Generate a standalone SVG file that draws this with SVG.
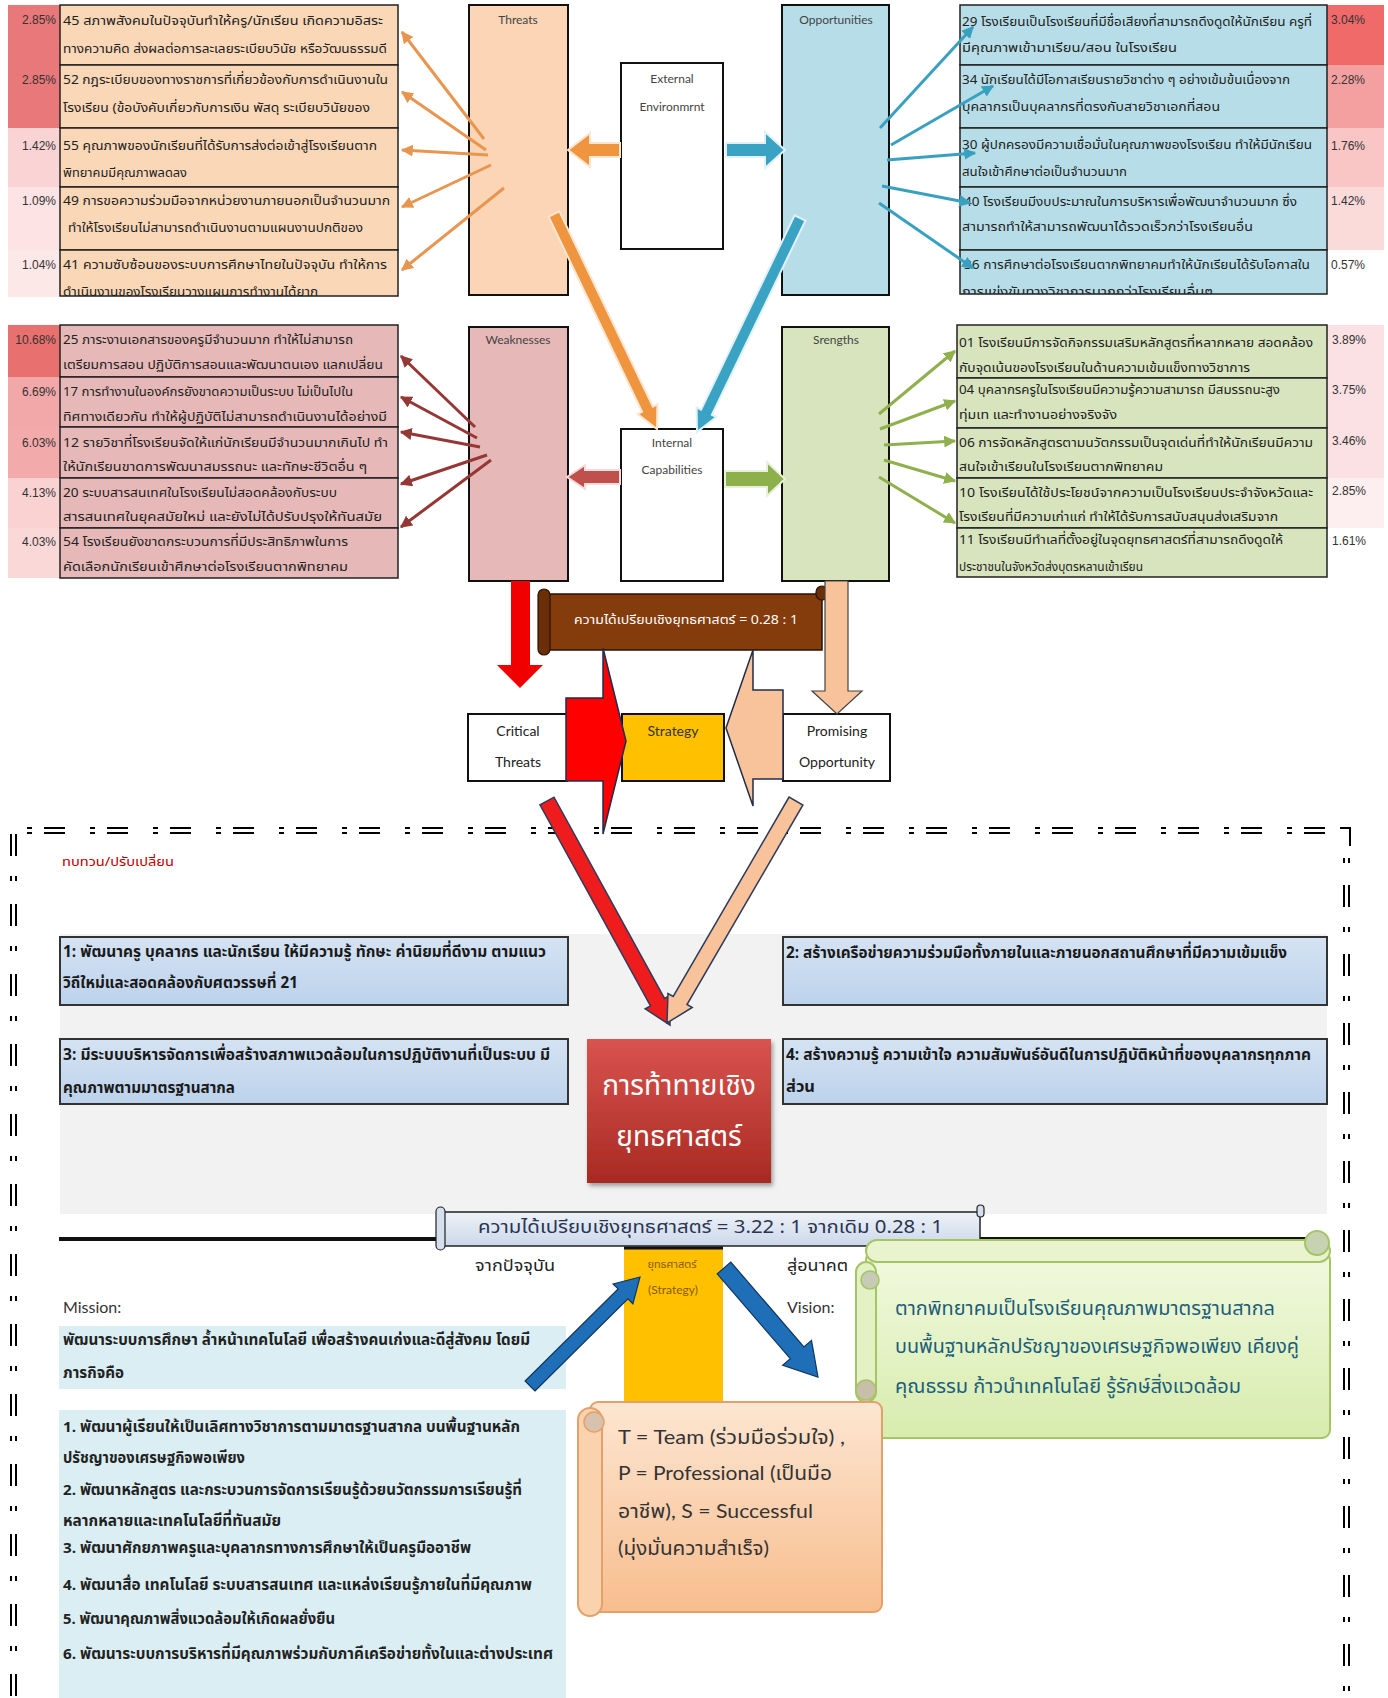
<svg xmlns="http://www.w3.org/2000/svg" width="1388" height="1698" viewBox="0 0 1388 1698">
<defs>
<style>
.th{font-family:"Noto Sans Thai","Tahoma","Loma","Garuda","Liberation Sans",sans-serif;dominant-baseline:central;fill:#222}
.t13{font-size:13px}
.pct{font-family:"Liberation Sans",sans-serif;font-size:12px;fill:#333;dominant-baseline:central}
.en{font-family:"Lato","Open Sans","Noto Sans Thai",sans-serif;fill:#444;dominant-baseline:central}
.box{stroke:#111;stroke-width:2}
.row{stroke:#222;stroke-width:1.5}
.goal{font-size:16px;font-weight:bold;fill:#1a1a1a}
.mis{font-size:15px;font-weight:bold;fill:#222}
.fanO{stroke:#e8964f;stroke-width:3;fill:none;marker-end:url(#mO)}
.fanB{stroke:#3aa0c0;stroke-width:3;fill:none;marker-end:url(#mB)}
.fanR{stroke:#953735;stroke-width:3;fill:none;marker-end:url(#mR)}
.fanG{stroke:#8fb04c;stroke-width:3;fill:none;marker-end:url(#mG)}
.dl{stroke:#000;stroke-width:2;fill:none}
</style>
<marker id="mO" viewBox="0 0 10 10" refX="9" refY="5" markerWidth="12" markerHeight="12" markerUnits="userSpaceOnUse" orient="auto"><path d="M0,0 L10,5 L0,10 z" fill="#e8964f"/></marker>
<marker id="mB" viewBox="0 0 10 10" refX="9" refY="5" markerWidth="12" markerHeight="12" markerUnits="userSpaceOnUse" orient="auto"><path d="M0,0 L10,5 L0,10 z" fill="#3aa0c0"/></marker>
<marker id="mR" viewBox="0 0 10 10" refX="9" refY="5" markerWidth="12" markerHeight="12" markerUnits="userSpaceOnUse" orient="auto"><path d="M0,0 L10,5 L0,10 z" fill="#953735"/></marker>
<marker id="mG" viewBox="0 0 10 10" refX="9" refY="5" markerWidth="12" markerHeight="12" markerUnits="userSpaceOnUse" orient="auto"><path d="M0,0 L10,5 L0,10 z" fill="#8fb04c"/></marker>
<linearGradient id="gRed" x1="0" y1="0" x2="0" y2="1"><stop offset="0" stop-color="#d9534f"/><stop offset="1" stop-color="#a82a22"/></linearGradient>
<linearGradient id="gGoal" x1="0" y1="0" x2="0" y2="1"><stop offset="0" stop-color="#d5e3f3"/><stop offset="1" stop-color="#bcd2ec"/></linearGradient>
<linearGradient id="gBan" x1="0" y1="0" x2="0" y2="1"><stop offset="0" stop-color="#eef2f8"/><stop offset="1" stop-color="#cbd8ea"/></linearGradient>
<linearGradient id="gVis" x1="0" y1="0" x2="0" y2="1"><stop offset="0" stop-color="#f2f9df"/><stop offset="1" stop-color="#d7ecad"/></linearGradient>
<linearGradient id="gTps" x1="0" y1="0" x2="0" y2="1"><stop offset="0" stop-color="#fde6d2"/><stop offset="1" stop-color="#f8bd8e"/></linearGradient>
<clipPath id="cT"><rect x="0" y="0" width="400" height="296"/></clipPath>
<clipPath id="cO"><rect x="950" y="0" width="438" height="294"/></clipPath>
<filter id="sh" x="-10%" y="-10%" width="130%" height="130%"><feDropShadow dx="2" dy="3" stdDeviation="2" flood-color="#000" flood-opacity="0.35"/></filter>
</defs>
<rect width="1388" height="1698" fill="#fff"/>
<rect x="60" y="934" width="1267" height="280" fill="#f2f2f2"/>

<!-- Threat list -->
<g id="threat-list">
<rect x="8" y="5" width="52" height="60" fill="#e8787a"/>
<rect x="8" y="65" width="52" height="63" fill="#e8787a"/>
<rect x="8" y="128" width="52" height="59" fill="#fad4d4"/>
<rect x="8" y="187" width="52" height="63" fill="#fde3e3"/>
<rect x="8" y="250" width="52" height="47" fill="#fde8e8"/>
<rect x="60" y="5" width="338" height="60" fill="#fad7b6" class="row"/>
<rect x="60" y="65" width="338" height="63" fill="#fad7b6" class="row"/>
<rect x="60" y="128" width="338" height="59" fill="#fad7b6" class="row"/>
<rect x="60" y="187" width="338" height="63" fill="#fad7b6" class="row"/>
<rect x="60" y="250" width="338" height="46" fill="#fad7b6" class="row"/>
<text class="pct" x="56" y="20" text-anchor="end">2.85%</text>
<text class="pct" x="56" y="80" text-anchor="end">2.85%</text>
<text class="pct" x="56" y="146" text-anchor="end">1.42%</text>
<text class="pct" x="56" y="201" text-anchor="end">1.09%</text>
<text class="pct" x="56" y="265" text-anchor="end">1.04%</text>
<g class="th t13">
<text x="63" y="21" textLength="320" lengthAdjust="spacingAndGlyphs">45 สภาพสังคมในปัจจุบันทำให้ครู/นักเรียน เกิดความอิสระ</text>
<text x="63" y="49" textLength="324" lengthAdjust="spacingAndGlyphs">ทางความคิด ส่งผลต่อการละเลยระเบียบวินัย หรือวัฒนธรรมดี</text>
<text x="63" y="80" textLength="325" lengthAdjust="spacingAndGlyphs">52 กฎระเบียบของทางราชการที่เกี่ยวข้องกับการดำเนินงานใน</text>
<text x="63" y="108" textLength="307" lengthAdjust="spacingAndGlyphs">โรงเรียน (ข้อบังคับเกี่ยวกับการเงิน พัสดุ ระเบียบวินัยของ</text>
<text x="63" y="146" textLength="314" lengthAdjust="spacingAndGlyphs">55 คุณภาพของนักเรียนที่ได้รับการส่งต่อเข้าสู่โรงเรียนตาก</text>
<text x="63" y="173" textLength="124" lengthAdjust="spacingAndGlyphs">พิทยาคมมีคุณภาพลดลง</text>
<text x="63" y="201" textLength="327" lengthAdjust="spacingAndGlyphs">49 การขอความร่วมมือจากหน่วยงานภายนอกเป็นจำนวนมาก</text>
<text x="68" y="228" textLength="295" lengthAdjust="spacingAndGlyphs">ทำให้โรงเรียนไม่สามารถดำเนินงานตามแผนงานปกติของ</text>
<text x="63" y="265" textLength="324" lengthAdjust="spacingAndGlyphs">41 ความซับซ้อนของระบบการศึกษาไทยในปัจจุบัน ทำให้การ</text>
<text x="63" y="292" textLength="255" lengthAdjust="spacingAndGlyphs" clip-path="url(#cT)">ดำเนินงานของโรงเรียนวางแผนการทำงานได้ยาก</text>
</g>
</g>

<!-- Opportunity list -->
<g id="opportunity-list">
<rect x="1327" y="5" width="57" height="60" fill="#f06a6a"/>
<rect x="1327" y="65" width="57" height="63" fill="#f5a0a0"/>
<rect x="1327" y="128" width="57" height="59" fill="#f9c5c5"/>
<rect x="1327" y="187" width="57" height="63" fill="#fbdada"/>
<rect x="960" y="5" width="367" height="60" fill="#b7dee8" class="row"/>
<rect x="960" y="65" width="367" height="63" fill="#b7dee8" class="row"/>
<rect x="960" y="128" width="367" height="59" fill="#b7dee8" class="row"/>
<rect x="960" y="187" width="367" height="63" fill="#b7dee8" class="row"/>
<rect x="960" y="250" width="367" height="44" fill="#b7dee8" class="row"/>
<text class="pct" x="1331" y="20">3.04%</text>
<text class="pct" x="1331" y="80">2.28%</text>
<text class="pct" x="1331" y="146">1.76%</text>
<text class="pct" x="1331" y="201">1.42%</text>
<text class="pct" x="1331" y="265">0.57%</text>
<g class="th t13">
<text x="962" y="22" textLength="350" lengthAdjust="spacingAndGlyphs">29 โรงเรียนเป็นโรงเรียนที่มีชื่อเสียงที่สามารถดึงดูดให้นักเรียน ครูที่</text>
<text x="962" y="48" textLength="215" lengthAdjust="spacingAndGlyphs">มีคุณภาพเข้ามาเรียน/สอน ในโรงเรียน</text>
<text x="962" y="80" textLength="328" lengthAdjust="spacingAndGlyphs">34 นักเรียนได้มีโอกาสเรียนรายวิชาต่าง ๆ อย่างเข้มข้นเนื่องจาก</text>
<text x="962" y="107" textLength="258" lengthAdjust="spacingAndGlyphs">บุคลากรเป็นบุคลากรที่ตรงกับสายวิชาเอกที่สอน</text>
<text x="962" y="145" textLength="350" lengthAdjust="spacingAndGlyphs">30 ผู้ปกครองมีความเชื่อมั่นในคุณภาพของโรงเรียน ทำให้มีนักเรียน</text>
<text x="962" y="172" textLength="165" lengthAdjust="spacingAndGlyphs">สนใจเข้าศึกษาต่อเป็นจำนวนมาก</text>
<text x="964" y="202" textLength="333" lengthAdjust="spacingAndGlyphs">40 โรงเรียนมีงบประมาณในการบริหารเพื่อพัฒนาจำนวนมาก ซึ่ง</text>
<text x="962" y="227" textLength="291" lengthAdjust="spacingAndGlyphs">สามารถทำให้สามารถพัฒนาได้รวดเร็วกว่าโรงเรียนอื่น</text>
<text x="964" y="265" textLength="346" lengthAdjust="spacingAndGlyphs">36 การศึกษาต่อโรงเรียนตากพิทยาคมทำให้นักเรียนได้รับโอกาสใน</text>
<text x="962" y="292" textLength="251" lengthAdjust="spacingAndGlyphs" clip-path="url(#cO)">การแข่งขันทางวิชาการมากกว่าโรงเรียนอื่นๆ</text>
</g>
</g>

<!-- Weakness list -->
<g id="weakness-list">
<rect x="8" y="325" width="52" height="52" fill="#e8706f"/>
<rect x="8" y="377" width="52" height="50" fill="#f2a8a8"/>
<rect x="8" y="427" width="52" height="51" fill="#f2aaaa"/>
<rect x="8" y="478" width="52" height="50" fill="#fbd2d2"/>
<rect x="8" y="528" width="52" height="50" fill="#fbd8d8"/>
<rect x="60" y="325" width="338" height="52" fill="#e6b9b8" class="row"/>
<rect x="60" y="377" width="338" height="50" fill="#e6b9b8" class="row"/>
<rect x="60" y="427" width="338" height="51" fill="#e6b9b8" class="row"/>
<rect x="60" y="478" width="338" height="50" fill="#e6b9b8" class="row"/>
<rect x="60" y="528" width="338" height="50" fill="#e6b9b8" class="row"/>
<text class="pct" x="56" y="340" text-anchor="end">10.68%</text>
<text class="pct" x="56" y="392" text-anchor="end">6.69%</text>
<text class="pct" x="56" y="443" text-anchor="end">6.03%</text>
<text class="pct" x="56" y="493" text-anchor="end">4.13%</text>
<text class="pct" x="56" y="542" text-anchor="end">4.03%</text>
<g class="th t13">
<text x="63" y="340" textLength="290" lengthAdjust="spacingAndGlyphs">25 ภาระงานเอกสารของครูมีจำนวนมาก ทำให้ไม่สามารถ</text>
<text x="63" y="365" textLength="320" lengthAdjust="spacingAndGlyphs">เตรียมการสอน ปฏิบัติการสอนและพัฒนาตนเอง แลกเปลี่ยน</text>
<text x="63" y="392" textLength="290" lengthAdjust="spacingAndGlyphs">17 การทำงานในองค์กรยังขาดความเป็นระบบ ไม่เป็นไปใน</text>
<text x="63" y="417" textLength="324" lengthAdjust="spacingAndGlyphs">ทิศทางเดียวกัน ทำให้ผู้ปฏิบัติไม่สามารถดำเนินงานได้อย่างมี</text>
<text x="63" y="443" textLength="325" lengthAdjust="spacingAndGlyphs">12 รายวิชาที่โรงเรียนจัดให้แก่นักเรียนมีจำนวนมากเกินไป ทำ</text>
<text x="63" y="467" textLength="304" lengthAdjust="spacingAndGlyphs">ให้นักเรียนขาดการพัฒนาสมรรถนะ และทักษะชีวิตอื่น ๆ</text>
<text x="63" y="493" textLength="274" lengthAdjust="spacingAndGlyphs">20 ระบบสารสนเทศในโรงเรียนไม่สอดคล้องกับระบบ</text>
<text x="63" y="517" textLength="319" lengthAdjust="spacingAndGlyphs">สารสนเทศในยุคสมัยใหม่  และยังไม่ได้ปรับปรุงให้ทันสมัย</text>
<text x="63" y="542" textLength="285" lengthAdjust="spacingAndGlyphs">54 โรงเรียนยังขาดกระบวนการที่มีประสิทธิภาพในการ</text>
<text x="63" y="567" textLength="285" lengthAdjust="spacingAndGlyphs">คัดเลือกนักเรียนเข้าศึกษาต่อโรงเรียนตากพิทยาคม</text>
</g>
</g>

<!-- Strength list -->
<g id="strength-list">
<rect x="1327" y="325" width="57" height="153" fill="#fbe1e4"/>
<rect x="1327" y="478" width="57" height="50" fill="#fdefef"/>
<rect x="957" y="325" width="370" height="53" fill="#d7e4bd" class="row"/>
<rect x="957" y="378" width="370" height="50" fill="#d7e4bd" class="row"/>
<rect x="957" y="428" width="370" height="50" fill="#d7e4bd" class="row"/>
<rect x="957" y="478" width="370" height="50" fill="#d7e4bd" class="row"/>
<rect x="957" y="528" width="370" height="49" fill="#d7e4bd" class="row"/>
<text class="pct" x="1332" y="340">3.89%</text>
<text class="pct" x="1332" y="390">3.75%</text>
<text class="pct" x="1332" y="441">3.46%</text>
<text class="pct" x="1332" y="491">2.85%</text>
<text class="pct" x="1332" y="541">1.61%</text>
<g class="th t13">
<text x="959" y="343" textLength="354" lengthAdjust="spacingAndGlyphs">01 โรงเรียนมีการจัดกิจกรรมเสริมหลักสูตรที่หลากหลาย สอดคล้อง</text>
<text x="959" y="368" textLength="291" lengthAdjust="spacingAndGlyphs">กับจุดเน้นของโรงเรียนในด้านความเข้มแข็งทางวิชาการ</text>
<text x="959" y="390" textLength="321" lengthAdjust="spacingAndGlyphs">04 บุคลากรครูในโรงเรียนมีความรู้ความสามารถ มีสมรรถนะสูง</text>
<text x="959" y="415" textLength="158" lengthAdjust="spacingAndGlyphs">ทุ่มเท และทำงานอย่างจริงจัง</text>
<text x="959" y="443" textLength="354" lengthAdjust="spacingAndGlyphs">06 การจัดหลักสูตรตามนวัตกรรมเป็นจุดเด่นที่ทำให้นักเรียนมีความ</text>
<text x="959" y="467" textLength="204" lengthAdjust="spacingAndGlyphs">สนใจเข้าเรียนในโรงเรียนตากพิทยาคม</text>
<text x="959" y="493" textLength="354" lengthAdjust="spacingAndGlyphs">10 โรงเรียนได้ใช้ประโยชน์จากความเป็นโรงเรียนประจำจังหวัดและ</text>
<text x="959" y="517" textLength="319" lengthAdjust="spacingAndGlyphs">โรงเรียนที่มีความเก่าแก่ ทำให้ได้รับการสนับสนุนส่งเสริมจาก</text>
<text x="959" y="540" textLength="324" lengthAdjust="spacingAndGlyphs">11 โรงเรียนมีทำเลที่ตั้งอยู่ในจุดยุทธศาสตร์ที่สามารถดึงดูดให้</text>
<text x="959" y="567" textLength="184" lengthAdjust="spacingAndGlyphs">ประชาชนในจังหวัดส่งบุตรหลานเข้าเรียน</text>
</g>
</g>

<!-- Central SWOT boxes -->
<g id="threats">
<rect x="469" y="5" width="99" height="290" fill="#fbd5b5" class="box"/>
<text class="en" x="518" y="19" font-size="12" text-anchor="middle">Threats</text>
</g>
<g id="opportunities">
<rect x="782" y="5" width="107" height="290" fill="#b7dde8" class="box"/>
<text class="en" x="836" y="19" font-size="12" text-anchor="middle">Opportunities</text>
</g>
<g id="external">
<rect x="621" y="63" width="102" height="186" fill="#fff" class="box"/>
<text class="en" x="672" y="78" font-size="12" text-anchor="middle">External</text>
<text class="en" x="672" y="106" font-size="12" text-anchor="middle">Environmrnt</text>
</g>
<g id="weaknesses">
<rect x="469" y="327" width="99" height="254" fill="#e6b9b8" class="box"/>
<text class="en" x="518" y="339" font-size="12" text-anchor="middle">Weaknesses</text>
</g>
<g id="strengths">
<rect x="782" y="327" width="107" height="254" fill="#d7e4bd" class="box"/>
<text class="en" x="836" y="339" font-size="12" text-anchor="middle">Srengths</text>
</g>
<g id="internal">
<rect x="621" y="429" width="102" height="152" fill="#fff" class="box"/>
<text class="en" x="672" y="442" font-size="12" text-anchor="middle">Internal</text>
<text class="en" x="672" y="469" font-size="12" text-anchor="middle">Capabilities</text>
</g>

<!-- Brown banner -->
<g id="ratio-banner">
<rect x="546" y="594" width="276" height="56" fill="#843c0c" stroke="#2b1203" stroke-width="1.5"/>
<rect x="538" y="589" width="12" height="66" rx="6" fill="#6b2f08" stroke="#2b1203" stroke-width="1.2"/>
<rect x="816" y="586" width="12" height="14" rx="6" fill="#6b2f08" stroke="#2b1203" stroke-width="1.2"/>
<text class="th" x="686" y="620" font-size="12" text-anchor="middle" style="fill:#fff" textLength="224" lengthAdjust="spacingAndGlyphs">ความได้เปรียบเชิงยุทธศาสตร์ = 0.28 : 1</text>
</g>

<!-- Critical / Strategy / Promising -->
<g id="critical-threats">
<rect x="468" y="714" width="99" height="67" fill="#fff" class="box"/>
<text class="en" x="518" y="730" font-size="14" text-anchor="middle" style="fill:#222">Critical</text>
<text class="en" x="518" y="761" font-size="14" text-anchor="middle" style="fill:#222">Threats</text>
</g>
<g id="strategy">
<rect x="622" y="714" width="102" height="67" fill="#ffc000" class="box"/>
<text class="en" x="673" y="730" font-size="14" text-anchor="middle" style="fill:#333">Strategy</text>
</g>
<g id="promising-opportunity">
<rect x="783" y="714" width="107" height="67" fill="#fff" class="box"/>
<text class="en" x="837" y="730" font-size="14" text-anchor="middle" style="fill:#222">Promising</text>
<text class="en" x="837" y="761" font-size="14" text-anchor="middle" style="fill:#222">Opportunity</text>
</g>

<!-- Dashed frame -->
<g id="frame">
<line class="dl" x1="27" y1="828" x2="1348" y2="828" stroke-dasharray="5 12 21 25"/>
<line class="dl" x1="27" y1="833" x2="1348" y2="833" stroke-dasharray="5 12 21 25"/>
<polyline class="dl" points="1340,828 1350,828 1350,846"/>
<line class="dl" x1="11" y1="834" x2="11" y2="1698" stroke-dasharray="22 20 5 23"/>
<line class="dl" x1="16" y1="834" x2="16" y2="1698" stroke-dasharray="22 20 5 23"/>
<line class="dl" x1="1344" y1="858" x2="1344" y2="1698" stroke-dasharray="5 22 22 20"/>
<line class="dl" x1="1349" y1="858" x2="1349" y2="1698" stroke-dasharray="5 22 22 20"/>
<text class="th" x="62" y="862" font-size="12" style="fill:#c00000" textLength="112" lengthAdjust="spacingAndGlyphs">ทบทวน/ปรับเปลี่ยน</text>
</g>

<g id="goal-1">
<rect x="60" y="937" width="508" height="68" fill="url(#gGoal)" stroke="#333" stroke-width="2"/>
<text class="th goal" x="63" y="952" textLength="483" lengthAdjust="spacingAndGlyphs">1: พัฒนาครู บุคลากร และนักเรียน ให้มีความรู้ ทักษะ ค่านิยมที่ดีงาม ตามแนว</text>
<text class="th goal" x="63" y="983" textLength="235" lengthAdjust="spacingAndGlyphs">วิถีใหม่และสอดคล้องกับศตวรรษที่ 21</text>
</g>
<g id="goal-2">
<rect x="783" y="937" width="544" height="68" fill="url(#gGoal)" stroke="#333" stroke-width="2"/>
<text class="th goal" x="786" y="953" textLength="501" lengthAdjust="spacingAndGlyphs">2: สร้างเครือข่ายความร่วมมือทั้งภายในและภายนอกสถานศึกษาที่มีความเข้มแข็ง</text>
</g>
<g id="goal-3">
<rect x="60" y="1039" width="508" height="65" fill="url(#gGoal)" stroke="#333" stroke-width="2"/>
<text class="th goal" x="63" y="1055" textLength="487" lengthAdjust="spacingAndGlyphs">3: มีระบบบริหารจัดการเพื่อสร้างสภาพแวดล้อมในการปฏิบัติงานที่เป็นระบบ มี</text>
<text class="th goal" x="63" y="1088" textLength="172" lengthAdjust="spacingAndGlyphs">คุณภาพตามมาตรฐานสากล</text>
</g>
<g id="goal-4">
<rect x="783" y="1039" width="544" height="65" fill="url(#gGoal)" stroke="#333" stroke-width="2"/>
<text class="th goal" x="786" y="1055" textLength="525" lengthAdjust="spacingAndGlyphs">4: สร้างความรู้ ความเข้าใจ ความสัมพันธ์อันดีในการปฏิบัติหน้าที่ของบุคลากรทุกภาค</text>
<text class="th goal" x="786" y="1087" textLength="29" lengthAdjust="spacingAndGlyphs">ส่วน</text>
</g>
<g id="challenge">
<rect x="587" y="1039" width="184" height="144" fill="url(#gRed)" filter="url(#sh)"/>
<text class="th" x="679" y="1086" font-size="28" text-anchor="middle" style="fill:#fff">การท้าทายเชิง</text>
<text class="th" x="679" y="1137" font-size="28" text-anchor="middle" style="fill:#fff">ยุทธศาสตร์</text>
</g>

<!-- Timeline -->
<g id="timeline">
<line x1="59" y1="1239" x2="440" y2="1239" stroke="#111" stroke-width="4"/>
<line x1="980" y1="1239" x2="1315" y2="1239" stroke="#111" stroke-width="4"/>
<rect x="442" y="1212" width="538" height="34" fill="url(#gBan)" stroke="#222" stroke-width="1.5"/>
<rect x="436" y="1207" width="9" height="43" rx="4.5" fill="#d5dfee" stroke="#222" stroke-width="1.2"/>
<rect x="977" y="1205" width="7" height="12" rx="3.5" fill="#d5dfee" stroke="#222" stroke-width="1.2"/>
<text class="th" x="478" y="1227" font-size="18" style="fill:#2a3550" textLength="465" lengthAdjust="spacingAndGlyphs">ความได้เปรียบเชิงยุทธศาสตร์ = 3.22 : 1   จากเดิม 0.28 : 1</text>
<text class="th" x="475" y="1266" font-size="15" style="fill:#222" textLength="80" lengthAdjust="spacingAndGlyphs">จากปัจจุบัน</text>
<text class="th" x="787" y="1266" font-size="15" style="fill:#222" textLength="61" lengthAdjust="spacingAndGlyphs">สู่อนาคต</text>
</g>

<g id="strategy-bar">
<rect x="624" y="1248" width="99" height="158" fill="#ffc000"/>
<line x1="624" y1="1248" x2="723" y2="1248" stroke="#111" stroke-width="3"/>
<text class="th" x="672" y="1264" font-size="11" text-anchor="middle" style="fill:#8a5a00">ยุทธศาสตร์</text>
<text class="en" x="673" y="1289" font-size="12" text-anchor="middle" style="fill:#8a5a00">(Strategy)</text>
</g>

<!-- Mission -->
<g id="mission">
<text class="en" x="63" y="1306" font-size="16" style="fill:#333">Mission:</text>
<rect x="59" y="1326" width="507" height="63" fill="#daeef3"/>
<text class="th mis" x="63" y="1340" textLength="467" lengthAdjust="spacingAndGlyphs">พัฒนาระบบการศึกษา ล้ำหน้าเทคโนโลยี เพื่อสร้างคนเก่งและดีสู่สังคม โดยมี</text>
<text class="th mis" x="63" y="1373" textLength="61" lengthAdjust="spacingAndGlyphs">ภารกิจคือ</text>
</g>
<g id="mission-list">
<rect x="59" y="1410" width="507" height="288" fill="#daeef3"/>
<text class="th mis" x="63" y="1427" textLength="457" lengthAdjust="spacingAndGlyphs">1. พัฒนาผู้เรียนให้เป็นเลิศทางวิชาการตามมาตรฐานสากล บนพื้นฐานหลัก</text>
<text class="th mis" x="63" y="1458" textLength="182" lengthAdjust="spacingAndGlyphs">ปรัชญาของเศรษฐกิจพอเพียง</text>
<text class="th mis" x="63" y="1490" textLength="459" lengthAdjust="spacingAndGlyphs">2. พัฒนาหลักสูตร และกระบวนการจัดการเรียนรู้ด้วยนวัตกรรมการเรียนรู้ที่</text>
<text class="th mis" x="63" y="1521" textLength="218" lengthAdjust="spacingAndGlyphs">หลากหลายและเทคโนโลยีที่ทันสมัย</text>
<text class="th mis" x="63" y="1548" textLength="408" lengthAdjust="spacingAndGlyphs">3. พัฒนาศักยภาพครูและบุคลากรทางการศึกษาให้เป็นครูมืออาชีพ</text>
<text class="th mis" x="63" y="1585" textLength="469" lengthAdjust="spacingAndGlyphs">4. พัฒนาสื่อ เทคโนโลยี ระบบสารสนเทศ และแหล่งเรียนรู้ภายในที่มีคุณภาพ</text>
<text class="th mis" x="63" y="1619" textLength="272" lengthAdjust="spacingAndGlyphs">5. พัฒนาคุณภาพสิ่งแวดล้อมให้เกิดผลยั่งยืน</text>
<text class="th mis" x="63" y="1654" textLength="490" lengthAdjust="spacingAndGlyphs">6. พัฒนาระบบการบริหารที่มีคุณภาพร่วมกับภาคีเครือข่ายทั้งในและต่างประเทศ</text>
</g>

<!-- Vision -->
<g id="vision">
<text class="en" x="787" y="1306" font-size="16" style="fill:#333">Vision:</text>
<rect x="866" y="1252" width="464" height="186" rx="8" fill="url(#gVis)" stroke="#a4c466" stroke-width="2"/>
<rect x="866" y="1240" width="464" height="22" rx="11" fill="#e9f4cf" stroke="#a4c466" stroke-width="2"/>
<circle cx="1317" cy="1243" r="12" fill="#c7d3b0" stroke="#a4c466" stroke-width="2"/>
<rect x="856" y="1262" width="20" height="140" rx="10" fill="#e3f1c5" stroke="#a4c466" stroke-width="2"/>
<circle cx="870" cy="1280" r="9" fill="#c7cbb5" stroke="#a4c466" stroke-width="1.5"/>
<circle cx="866" cy="1390" r="10" fill="#c9bfa8" stroke="#a4c466" stroke-width="1.5"/>
<text class="th" x="895" y="1309" font-size="20" style="fill:#1b5e7b" textLength="380" lengthAdjust="spacingAndGlyphs">ตากพิทยาคมเป็นโรงเรียนคุณภาพมาตรฐานสากล</text>
<text class="th" x="895" y="1347" font-size="20" style="fill:#1b5e7b" textLength="404" lengthAdjust="spacingAndGlyphs">บนพื้นฐานหลักปรัชญาของเศรษฐกิจพอเพียง เคียงคู่</text>
<text class="th" x="895" y="1387" font-size="20" style="fill:#1b5e7b" textLength="346" lengthAdjust="spacingAndGlyphs">คุณธรรม ก้าวนำเทคโนโลยี รู้รักษ์สิ่งแวดล้อม</text>
</g>

<!-- TPS values scroll -->
<g id="values">
<rect x="590" y="1402" width="292" height="210" rx="8" fill="url(#gTps)" stroke="#e2a06a" stroke-width="2"/>
<rect x="578" y="1408" width="24" height="208" rx="12" fill="#fbd2ae" stroke="#e2a06a" stroke-width="2"/>
<circle cx="594" cy="1422" r="10" fill="#d8c2ae" stroke="#e2a06a" stroke-width="1.5"/>
<text class="en" x="618" y="1436" font-size="19" style="fill:#333" textLength="227" lengthAdjust="spacingAndGlyphs">T = Team (ร่วมมือร่วมใจ) ,</text>
<text class="en" x="618" y="1472" font-size="19" style="fill:#333" textLength="214" lengthAdjust="spacingAndGlyphs">P = Professional (เป็นมือ</text>
<text class="en" x="618" y="1510" font-size="19" style="fill:#333" textLength="195" lengthAdjust="spacingAndGlyphs">อาชีพ), S = Successful</text>
<text class="en" x="618" y="1547" font-size="19" style="fill:#333" textLength="151" lengthAdjust="spacingAndGlyphs">(มุ่งมั่นความสำเร็จ)</text>
</g>

<!-- Connectors -->
<g id="connectors">
<line class="fanO" x1="484" y1="139" x2="402" y2="32"/>
<line class="fanO" x1="486" y1="150" x2="402" y2="92"/>
<line class="fanO" x1="488" y1="155" x2="402" y2="150"/>
<line class="fanO" x1="491" y1="165" x2="402" y2="207"/>
<line class="fanO" x1="504" y1="188" x2="402" y2="270"/>
<line class="fanB" x1="880" y1="128" x2="973" y2="27"/>
<line class="fanB" x1="891" y1="145" x2="993" y2="86"/>
<line class="fanB" x1="887" y1="160" x2="975" y2="153"/>
<line class="fanB" x1="882" y1="186" x2="970" y2="203"/>
<line class="fanB" x1="879" y1="203" x2="973" y2="268"/>
<line class="fanR" x1="475" y1="427" x2="401" y2="356"/>
<line class="fanR" x1="477" y1="438" x2="401" y2="397"/>
<line class="fanR" x1="480" y1="447" x2="401" y2="432"/>
<line class="fanR" x1="487" y1="455" x2="401" y2="484"/>
<line class="fanR" x1="491" y1="460" x2="401" y2="527"/>
<line class="fanG" x1="879" y1="414" x2="955" y2="351"/>
<line class="fanG" x1="880" y1="429" x2="955" y2="401"/>
<line class="fanG" x1="884" y1="445" x2="955" y2="441"/>
<line class="fanG" x1="884" y1="460" x2="955" y2="481"/>
<line class="fanG" x1="879" y1="477" x2="955" y2="523"/>
<polygon points="568,150 590,133 590,143 620,143 620,157 590,157 590,167" fill="#f0953f" stroke="#fde6d0" stroke-width="2"/>
<polygon points="785,150 765,132 765,143 726,143 726,157 765,157 765,168" fill="#3aa3c4" stroke="#e0f2f7" stroke-width="2"/>
<polygon points="567,477 585,465 585,470 620,470 620,484 585,484 585,489" fill="#c0504d" stroke="#f5dcdc" stroke-width="2"/>
<polygon points="785,479 767,462 767,471 725,471 725,487 767,487 767,496" fill="#8db04a" stroke="#e8f1da" stroke-width="2"/>
<polygon points="548.6,216.6 642.1,411.8 637.6,414 657,429 657.4,404.4 652.9,406.6 559.4,211.4" fill="#f0953f" stroke="#fde6d0" stroke-width="2"/>
<polygon points="794.6,215.4 701.1,409.6 696.6,407.4 697,432 716.4,417 711.9,414.8 805.4,220.6" fill="#3aa3c4" stroke="#e0f2f7" stroke-width="2"/>
<polygon points="511,581 530,581 530,665 543,665 520,688 497,665 511,665" fill="#f00000"/>
<polygon points="825,581 848,581 848,691 862,691 837,714 812,691 825,691" fill="#f8c39a" stroke="#444" stroke-width="1.2"/>
<polygon points="566,698 603,698 603,648 626,741 603,834 603,781 566,781" fill="#ff0000" stroke="#1f2d4d" stroke-width="1.5"/>
<polygon points="783,690 753,690 753,650 726,728 753,806 753,779 783,779" fill="#f8c39a" stroke="#1f2d4d" stroke-width="1.5"/>
<polygon points="540,804.8 650.5,1006 645.2,1008.9 670,1025 669.8,995.5 664.5,998.4 554,797.2" fill="#ee1c1c" stroke="#2f3b5a" stroke-width="1.5"/>
<polygon points="789.1,797 673.2,996.5 668,993.5 667,1023 692.2,1007.5 687,1004.5 802.9,805" fill="#f8c39a" stroke="#2f3b5a" stroke-width="1.5"/>
<polygon points="534.9,1391 627.9,1298.9 632.9,1303.8 640,1277 613.1,1284 618.1,1288.9 525.1,1381" fill="#1f6fb8" stroke="#10355e" stroke-width="1.2"/>
<polygon points="717.2,1273.9 790.3,1358.7 782.7,1365.2 818,1377 811.5,1340.4 803.9,1346.9 730.8,1262.1" fill="#1f6fb8" stroke="#10355e" stroke-width="1.2"/>
</g>
</svg>
